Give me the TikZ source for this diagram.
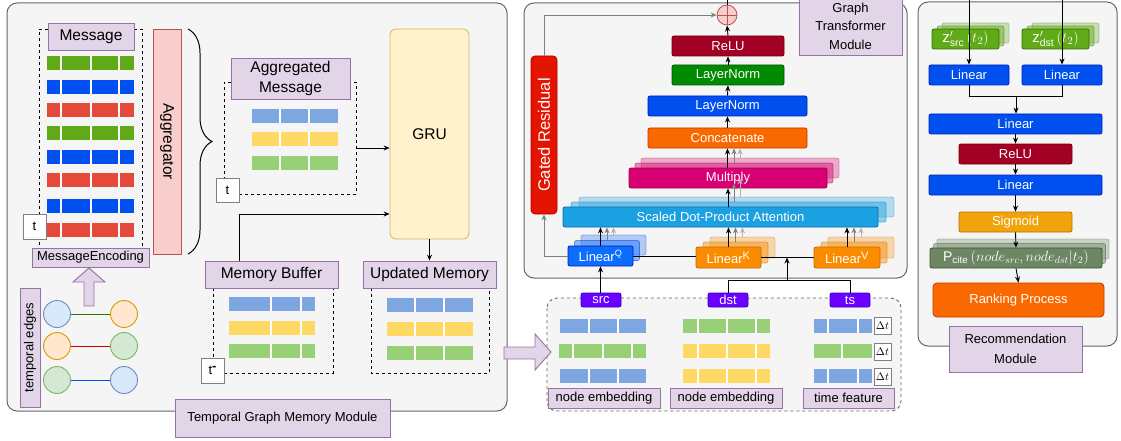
\documentclass[tikz,border=0pt]{standalone}
\usepackage{fontspec}
\setmainfont{Liberation Sans}
\usetikzlibrary{decorations.pathreplacing,arrows.meta}
\definecolor{panF}{HTML}{F5F5F5}\definecolor{panS}{HTML}{666666}
\definecolor{labF}{HTML}{E1D5E7}\definecolor{labS}{HTML}{9673A6}
\definecolor{aggF}{HTML}{F8CECC}\definecolor{aggS}{HTML}{B85450}
\definecolor{gruF}{HTML}{FFF2CC}\definecolor{gruS}{HTML}{D6B656}
\definecolor{mG}{HTML}{60A917}\definecolor{mB}{HTML}{0050EF}\definecolor{mR}{HTML}{E5493A}
\definecolor{pB}{HTML}{7EA6E0}\definecolor{pY}{HTML}{FFD966}\definecolor{pG}{HTML}{97D077}
\definecolor{cBF}{HTML}{DAE8FC}\definecolor{cBS}{HTML}{6C8EBF}
\definecolor{cOF}{HTML}{FFE6CC}\definecolor{cOS}{HTML}{D79B00}
\definecolor{cGF}{HTML}{D5E8D4}\definecolor{cGS}{HTML}{82B366}
\definecolor{reluF}{HTML}{A20025}\definecolor{reluS}{HTML}{6F0000}
\definecolor{lngF}{HTML}{008A00}\definecolor{lngS}{HTML}{005700}
\definecolor{lnbF}{HTML}{0050EF}\definecolor{lnbS}{HTML}{001DBC}
\definecolor{catF}{HTML}{FA6800}\definecolor{catS}{HTML}{C73500}
\definecolor{mulF}{HTML}{D80073}\definecolor{mulS}{HTML}{A50040}
\definecolor{sdpF}{HTML}{1BA1E2}\definecolor{sdpS}{HTML}{006EAF}
\definecolor{lqF}{HTML}{0D6EFD}\definecolor{lqS}{HTML}{001DBC}
\definecolor{lkF}{HTML}{FB8C00}\definecolor{lkS}{HTML}{C76A00}
\definecolor{grF}{HTML}{E51400}\definecolor{grS}{HTML}{B20000}
\definecolor{srcF}{HTML}{6A00FF}\definecolor{srcS}{HTML}{3700CC}
\definecolor{zF}{HTML}{60A917}\definecolor{zS}{HTML}{2D7600}
\definecolor{sigF}{HTML}{F0A30A}\definecolor{sigS}{HTML}{BD7000}
\definecolor{pcF}{HTML}{6D8764}\definecolor{pcS}{HTML}{3A5431}
\definecolor{eG}{HTML}{2D7600}\definecolor{eR}{HTML}{CC0000}\definecolor{eB}{HTML}{0050EF}
\newcommand\lgf{\fontsize{15.5}{19.5}\selectfont}
\newcommand\bx[6]{\node[#1,minimum width={(#4)-(#2)},minimum height={(#5)-(#3)}] (#6) at ({((#2)+(#4))/2},{((#3)+(#5))/2})}
\newcommand\shadows[8]{%
 \bx{#1,opacity=0.3}{#2+2*(#6)}{#3+2*(#7)}{#4+2*(#6)}{#5+2*(#7)}{#8b}{};
 \bx{#1,opacity=0.45}{#2+#6}{#3+#7}{#4+#6}{#5+#7}{#8a}{};}
\newcommand\emb[5]{\fill[#4] (#1,#3) rectangle (#2,#3+14);
 \foreach \d in {#5}{\draw[white,line width=1.2pt] (\d,#3) -- (\d,#3+14);}}
\tikzset{
 lab/.style={draw=labS,fill=labF,line width=0.8pt,inner sep=0pt,align=center},
 panel/.style={draw=panS,fill=panF,line width=1pt,rounded corners=10pt},
 tb/.style={draw=gray,fill=white,line width=1pt,inner sep=0pt},
 dsh/.style={dash pattern=on 3pt off 3pt,line width=0.9pt},
 arr/.style={-{Stealth[length=6pt,width=5pt]},line width=0.9pt},
 garr/.style={arr,draw=gray},
 sarr/.style={arr,draw=gray!60},
 fb/.style 2 args={draw=#2,fill=#1,rounded corners=2pt,line width=0.8pt,inner sep=0pt,text=white},
 circ/.style 2 args={circle,draw=#2,fill=#1,minimum size=27pt,inner sep=0pt,line width=0.9pt},
}
\begin{document}
\begin{tikzpicture}[x=1pt,y=-1pt,font=\fontsize{13}{15.6}\selectfont]
\useasboundingbox (0,0) rectangle (1121,441);

% ================= left panel =================
\draw[panel] (7,3) rectangle (507,411);
% message column
\draw[dsh] (48,29) -- (39,29) -- (39,248);
\draw[dsh] (134,29) -- (142,29) -- (142,248);
\bx{lab,font=\lgf}{48}{23}{134}{50}{msg}{Message};
\emb{47}{134}{56}{mG}{61,91,119}
\emb{47}{134}{80}{mB}{61,91,119}
\emb{47}{134}{103}{mR}{61,91,119}
\emb{47}{134}{126}{mG}{61,91,119}
\emb{47}{134}{150}{mB}{61,91,119}
\emb{47}{134}{173}{mR}{61,91,119}
\emb{47}{134}{199}{mB}{61,91,119}
\emb{47}{134}{223}{mR}{61,91,119}
\bx{tb}{23}{214}{46}{239}{t1}{t};
\bx{lab}{32}{248}{149}{267}{menc}{MessageEncoding};
% aggregator
\bx{draw=aggS,fill=aggF,line width=0.8pt,inner sep=0pt}{153}{29}{181}{254}{agg}{};
\node[rotate=-90,font=\lgf] (aggt) at (agg.center) {Aggregator};
\draw[decorate,decoration={brace,amplitude=24pt,aspect=0.5},line width=1pt] (188,29) -- (188,254);
% aggregated message
\draw[dsh] (231,82) -- (224,82) -- (224,178);
\draw[dsh] (239,194) -- (356,194) -- (356,82) -- (350,82);
\bx{lab,font=\lgf}{231}{58}{350}{99}{aggm}{Aggregated\\Message};
\emb{252}{338}{109}{pB}{280,309}
\emb{252}{338}{132}{pY}{280,309}
\emb{252}{338}{156}{pG}{280,309}
\bx{tb}{216}{178}{239}{202}{t2}{t};
% GRU
\bx{draw=gruS,fill=gruF,rounded corners=6pt,line width=0.8pt,inner sep=0pt,font=\lgf}{390}{29}{469}{239}{gru}{GRU};
\coordinate (aggout) at (356,148);
\draw[arr] (aggout) -- (aggout -| gru.west);
% memory buffer
\draw[dsh] (213,288) -- (213,358);
\draw[dsh] (224,373) -- (333,373) -- (333,288);
\bx{lab,font=\lgf}{205}{261}{338}{288}{mbuf}{Memory Buffer};
\emb{229}{315}{297}{pB}{271,301}
\emb{229}{315}{321}{pY}{271,301}
\emb{229}{315}{344}{pG}{271,301}
\bx{tb}{201}{358}{224}{383}{t3}{t\raisebox{4pt}{\textbf{-}}};
\draw[arr] ([xshift=-32.5pt]mbuf.north) |- ([yshift=-80pt]gru.west);
% updated memory
\draw[dsh] (371,288) -- (371,373) -- (489,373) -- (489,288);
\bx{lab,font=\lgf}{363}{261}{496}{288}{umem}{Updated Memory};
\emb{387}{473}{298}{pB}{415,444}
\emb{387}{473}{322}{pY}{415,444}
\emb{387}{473}{346}{pG}{415,444}
\draw[arr] (gru.south) -- (umem.north);
% temporal edges
\bx{lab}{20}{288}{40}{407}{tedge}{};
\node[rotate=90] (tedget) at (tedge.center) {temporal edges};
\node[circ={cBF}{cBS}] (c11) at (57,314) {};
\node[circ={cOF}{cOS}] (c12) at (124,314) {};
\node[circ={cOF}{cOS}] (c21) at (57,346) {};
\node[circ={cGF}{cGS}] (c22) at (124,346) {};
\node[circ={cGF}{cGS}] (c31) at (57,380) {};
\node[circ={cBF}{cBS}] (c32) at (124,380) {};
\draw[eG,line width=1pt] (c11) -- (c12);
\draw[eR,line width=1pt] (c21) -- (c22);
\draw[eB,line width=1pt] (c31) -- (c32);
\draw[draw=labS,fill=labF,line width=0.9pt] (84,306) -- (94,306) -- (94,282) -- (105,282) -- (89,268) -- (73,282) -- (84,282) -- cycle;
\bx{lab}{175}{399}{390}{437}{tgm}{Temporal Graph Memory Module};

% ================= graph transformer panel =================
\draw[panel] (524,3) rectangle (907,278);
\bx{lab,font=\fontsize{13}{18.5}\selectfont}{799}{-3}{902}{55}{gtl}{Graph\\Transformer\\Module};
% plus
\node[circle,draw=aggS,fill=aggF,minimum size=20pt,inner sep=0pt,line width=0.8pt] (plus) at (727,15) {};
\draw[aggS,line width=0.8pt] (plus.north) -- (plus.south) (plus.west) -- (plus.east);
\coordinate (outT) at (727,0);
\draw[line width=0.9pt] (plus.north) -- (outT);
% stack
\bx{fb={reluF}{reluS}}{672}{36}{784}{56}{relu}{ReLU};
\bx{fb={lngF}{lngS}}{672}{65}{784}{85}{lng}{LayerNorm};
\bx{fb={lnbF}{lnbS}}{648}{96}{807}{116}{lnb}{LayerNorm};
\bx{fb={catF}{catS}}{648}{128}{807}{148}{cat}{Concatenate};
\shadows{fb={mulF}{mulS}}{629}{168}{827}{188}{6}{-5}{mul}
\bx{fb={mulF}{mulS}}{629}{168}{827}{188}{mul}{Multiply};
\shadows{fb={sdpF}{sdpS}}{563}{207}{878}{227}{8}{-5}{sdp}
\bx{fb={sdpF}{sdpS}}{563}{207}{878}{227}{sdp}{Scaled Dot-Product Attention};
\shadows{fb={lqF}{lqS}}{568}{246}{633}{266}{6.5}{-5.5}{linQ}
\bx{fb={lqF}{lqS}}{568}{246}{633}{266}{linQ}{Linear\textsuperscript{Q}};
\shadows{fb={lkF}{lkS}}{696}{247}{761}{268}{7}{-5}{linK}
\bx{fb={lkF}{lkS}}{696}{247}{761}{268}{linK}{Linear\textsuperscript{\fontsize{11}{12}\selectfont K}};
\shadows{fb={lkF}{lkS}}{814}{247}{880}{268}{7}{-5}{linV}
\bx{fb={lkF}{lkS}}{814}{247}{880}{268}{linV}{Linear\textsuperscript{\fontsize{11}{12}\selectfont V}};
\bx{fb={grF}{grS},rounded corners=4pt}{531}{56}{557}{214}{gr}{};
\node[rotate=90,text=white,font=\fontsize{16.5}{19}\selectfont] (grt) at (gr.center) {Gated Residual};
% arrows in stack
\draw[arr] (relu.north) -- (plus.south);
\draw[arr] (lng.north) -- (relu.south);
\draw[arr] (lnb.north) -- (lng.south);
\draw[arr] (cat.north) -- (lnb.south);
\draw[sarr] (mulb.north) -- (mulb.north |- cat.south);
\draw[garr] (mula.north) -- (mula.north |- cat.south);
\draw[arr] (cat.south |- mul.north) -- (cat.south);
\draw[sarr] (mulb.south |- sdpb.north) -- (mulb.south);
\draw[garr] (mula.south |- sdpa.north) -- (mula.south);
\draw[arr] (mul.south |- sdp.north) -- (mul.south);
\draw[sarr] (linQb.north) -- (linQb.north |- sdp.south);
\draw[garr] (linQa.north) -- (linQa.north |- sdp.south);
\draw[arr] (linQ.north) -- (linQ.north |- sdp.south);
\draw[sarr] (linKb.north) -- (linKb.north |- sdp.south);
\draw[garr] (linKa.north) -- (linKa.north |- sdp.south);
\draw[arr] (linK.north) -- (linK.north |- sdp.south);
\draw[sarr] (linVb.north) -- (linVb.north |- sdp.south);
\draw[garr] (linVa.north) -- (linVa.north |- sdp.south);
\draw[arr] (linV.north) -- (linV.north |- sdp.south);
\draw[garr] (linQ.west) -| (gr.south);
\draw[garr] (gr.north) |- (plus.west);
\draw[line width=0.9pt] (linQ.east) -- (linQ.east -| linK.west);
\draw[line width=0.9pt] (linK.east) -- (linV.west);

% ================= input panel =================
\draw[dsh,draw=gray!80!black,fill=panF,rounded corners=10pt] (547,298) rectangle (901,411);
\draw[draw=labS,fill=labF,line width=0.9pt] (504,347) -- (535,347) -- (535,334) -- (551,352) -- (535,370) -- (535,359) -- (504,359) -- cycle;
\bx{fb={srcF}{srcS}}{581}{293}{621}{307}{src}{src};
\bx{fb={srcF}{srcS}}{708}{293}{748}{307}{dst}{dst};
\bx{fb={srcF}{srcS}}{830}{293}{870}{307}{ts}{ts};
\coordinate (jn) at (787,280);
\draw[arr] (linQ.south |- src.north) -- (linQ.south);
\draw[line width=0.9pt] (dst.north) |- (ts.north |- jn) -- (ts.north);
\draw[arr] (jn) -- (jn |- linK.east);
\emb{560}{646}{319}{pB}{589,618}
\emb{559}{646}{344}{pG}{573,603,632}
\emb{560}{646}{369}{pB}{589,618}
\emb{683}{770}{319}{pG}{698,727,756}
\emb{683}{770}{344}{pY}{698,727,756}
\emb{683}{770}{369}{pY}{698,727,756}
\emb{814}{872}{319}{pB}{828,858}
\emb{814}{872}{344}{pG}{842}
\emb{814}{872}{369}{pB}{828,858}
\bx{tb,font=\fontsize{11}{12}\selectfont}{874}{317}{891}{334}{dt1}{$\Delta t$};
\bx{tb,font=\fontsize{11}{12}\selectfont}{874}{343}{891}{360}{dt2}{$\Delta t$};
\bx{tb,font=\fontsize{11}{12}\selectfont}{874}{368}{891}{385}{dt3}{$\Delta t$};
\bx{lab}{548}{388}{660}{408}{ne1}{node embedding};
\bx{lab}{670}{388}{782}{408}{ne2}{node embedding};
\bx{lab}{803}{388}{894}{408}{tf}{time feature};

% ================= recommendation panel =================
\draw[panel] (918,2) rectangle (1117,346);
\shadows{fb={zF}{zS}}{932}{29}{999}{49}{5}{-3}{zs}
\bx{fb={zF}{zS},font=\fontsize{15}{17}\selectfont}{932}{29}{999}{49}{zs}{$\mathrm{z}'_{\mathrm{src}}\left(t_2\right)$};
\shadows{fb={zF}{zS}}{1022}{29}{1089}{49}{5}{-3}{zd}
\bx{fb={zF}{zS},font=\fontsize{15}{17}\selectfont}{1022}{29}{1089}{49}{zd}{$\mathrm{z}'_{\mathrm{dst}}\left(t_2\right)$};
\bx{fb={lnbF}{lnbS}}{929}{65}{1009}{85}{linL}{Linear};
\bx{fb={lnbF}{lnbS}}{1022}{65}{1102}{85}{linR}{Linear};
\bx{fb={lnbF}{lnbS}}{929}{114}{1102}{134}{lin1}{Linear};
\bx{fb={reluF}{reluS}}{959}{144}{1072}{164}{relu2}{ReLU};
\bx{fb={lnbF}{lnbS}}{929}{175}{1102}{195}{lin2}{Linear};
\bx{fb={sigF}{sigS}}{959}{212}{1072}{232}{sig}{Sigmoid};
\shadows{fb={pcF}{pcS}}{930}{248}{1102}{268}{3.5}{-4.5}{pc}
\bx{fb={pcF}{pcS},font=\fontsize{14}{16}\selectfont}{930}{248}{1102}{268}{pc}{$\mathrm{P}_{\mathrm{cite}}\left(node_{src}, node_{dst}|t_2\right)$};
\bx{fb={catF}{catS},rounded corners=4pt}{933}{283}{1104}{317}{rank}{Ranking Process};
\bx{lab,font=\fontsize{13}{20}\selectfont}{949}{326}{1082}{372}{recl}{Recommendation\\Module};
\coordinate (ztL) at (969,0);
\coordinate (ztR) at (1062,0);
\coordinate (mrg) at (1016,96);
\draw[arr] (ztL) -- (linL.north);
\draw[arr] (ztR) -- (linR.north);
\draw[line width=0.9pt] (linL.south) |- (mrg);
\draw[line width=0.9pt] (linR.south) |- (mrg);
\draw[arr] (mrg) -- (mrg |- lin1.north);
\draw[arr] (lin1.south) -- (relu2.north);
\draw[arr] (relu2.south) -- (lin2.north);
\draw[arr] (lin2.south) -- (sig.north);
\draw[arr] (sig.south) -- (pc.north);
\draw[arr] (pc.south) -- (rank.north);
\end{tikzpicture}
\end{document}
